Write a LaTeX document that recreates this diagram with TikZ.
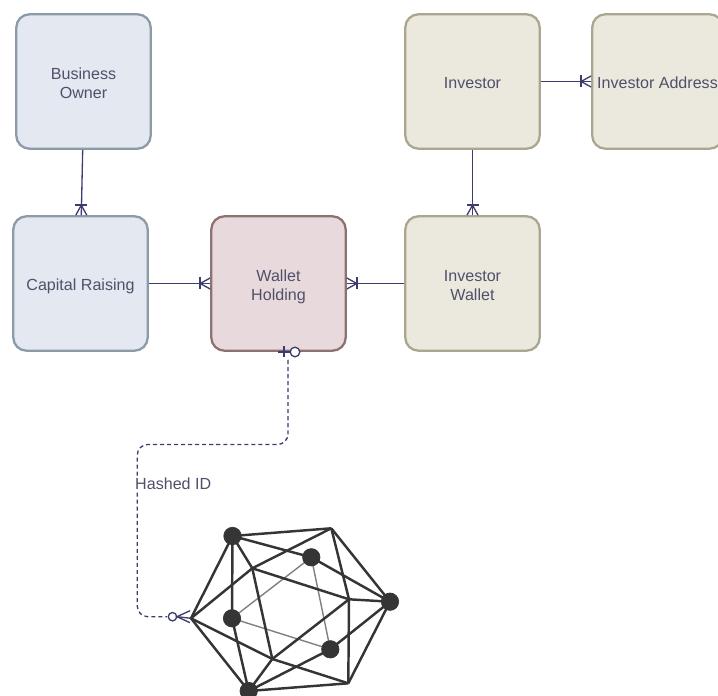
\documentclass[tikz,border=0pt]{standalone}
\usepackage{fontspec}
\setmainfont{Liberation Sans}
\usetikzlibrary{calc}
\definecolor{linkcol}{HTML}{3C3C6E}
\definecolor{textcol}{HTML}{50506A}
\definecolor{netcol}{HTML}{353535}
\definecolor{ownerfill}{HTML}{E3E8F1}
\definecolor{ownerline}{HTML}{8D9AA8}
\definecolor{backerfill}{HTML}{EBE8DD}
\definecolor{backerline}{HTML}{AAA68F}
\definecolor{holdfill}{HTML}{E8DADC}
\definecolor{holdline}{HTML}{8E7272}
\newcommand{\lowered}[1]{\raisebox{-2pt}[\height][\depth]{\begin{tabular}{@{}c@{}}#1\end{tabular}}}
\tikzset{
    entity/.style={draw,rounded corners=7.5pt,line width=1.3pt,minimum size=76.5pt,inner sep=0pt,
        text=textcol,font=\fontsize{9.15}{10.8}\selectfont},
    owner/.style={entity,fill=ownerfill,draw=ownerline},
    backer/.style={entity,fill=backerfill,draw=backerline},
    holding/.style={entity,fill=holdfill,draw=holdline},
    link/.style={draw=linkcol,line width=0.75pt},
    crowfoot/.pic={
        \draw[link] (-10,0) -- (0,0);
        \draw[link] (-10,-6) -- (-10,6);
        \draw[link] (0,-5.5) -- (-10,0) -- (0,5.5);
    },
}
\begin{document}
\begin{tikzpicture}[x=0.02cm,y=-0.02cm]
    \useasboundingbox (0,0) rectangle (718,696);
    % tables
    \node[owner] (bowner) at (83.5,81.5) {\lowered{Business\\Owner}};
    \node[owner] (capital) at (80.5,283.5) {\lowered{Capital Raising}};
    \node[holding] (holding) at (278.5,283.5) {\lowered{Wallet\\Holding}};
    \node[backer] (iwallet) at (472.5,283.5) {\lowered{Investor\\Wallet}};
    \node[backer] (investor) at (472.5,81.5) {\lowered{Investor}};
    \node[backer,minimum width=74.3pt] (iaddress) at (657.5,81.5) {\lowered{Investor Address}};
    % relations
    \coordinate (ownerfoot) at ($(capital.north)+(0.8,0)$);
    \draw[link] ($(bowner.south)+(-0.8,0)$) -- (ownerfoot);
    \draw[link] (capital) -- (holding);
    \draw[link] (iwallet) -- (holding);
    \draw[link] (investor) -- (iwallet);
    \draw[link] (investor) -- (iaddress);
    \path (holding.west) pic {crowfoot};
    \path (holding.east) pic[rotate=180] {crowfoot};
    \path (iaddress.west) pic {crowfoot};
    \path (iwallet.north) pic[rotate=-90] {crowfoot};
    \path (ownerfoot) pic[rotate=-90] {crowfoot};
    % network
    \coordinate (a) at (232.5,536);
    \coordinate (b) at (311.3,557.3);
    \coordinate (c) at (390,601.7);
    \coordinate (d) at (330.3,649.3);
    \coordinate (e) at (248.7,691);
    \coordinate (f) at (232,618.3);
    \coordinate (g) at (331.3,528.3);
    \coordinate (h) at (191,618.3);
    \coordinate (i) at (348.3,683.3);
    \coordinate (j) at (252.3,568.3);
    \coordinate (k) at (349,599.3);
    \coordinate (l) at (272.3,659);
    \foreach \p/\q in {b/d,d/f,f/b}
        \draw[line width=0.8pt,draw=gray] (\p) -- (\q);
    \foreach \p/\q in {a/g,g/c,c/i,i/e,e/h,h/a,j/k,k/l,l/j,j/a,j/g,j/h,k/g,k/c,k/i,l/i,l/h,l/e,b/a,b/c,d/c,d/e,f/a,f/e}
        \draw[line width=1.4pt,draw=netcol] (\p) -- (\q);
    \foreach \v in {a,b,c,d,e,f}
        \filldraw[netcol] (\v) circle (8.7);
    % hashed id
    \coordinate (hashstart) at (288,360);
    \coordinate (hashend) at (167,616.7);
    \draw[link,dash pattern=on 2.3pt off 1.7pt,rounded corners=6pt] (hashstart) -- (288,444.5) -- (137.3,444.5) -- (137.3,616.7) -- (hashend);
    \node[text=textcol,fill=white,font=\fontsize{9.15}{10.8}\selectfont,anchor=west,inner sep=0.5pt] (hashid) at (134,484) {Hashed ID};
    \draw[link] (278,352) -- (290,352);
    \draw[link] (284,346) -- (284,357.5);
    \draw[link,fill=white] (295,352) circle (4.8);
    \draw[link,fill=white] (172.5,616.7) circle (4.2);
    \draw[link] (190,610.7) -- (177,616.7) -- (190,622.7);
    \draw[link] (177,616.7) -- (h);
\end{tikzpicture}
\end{document}
